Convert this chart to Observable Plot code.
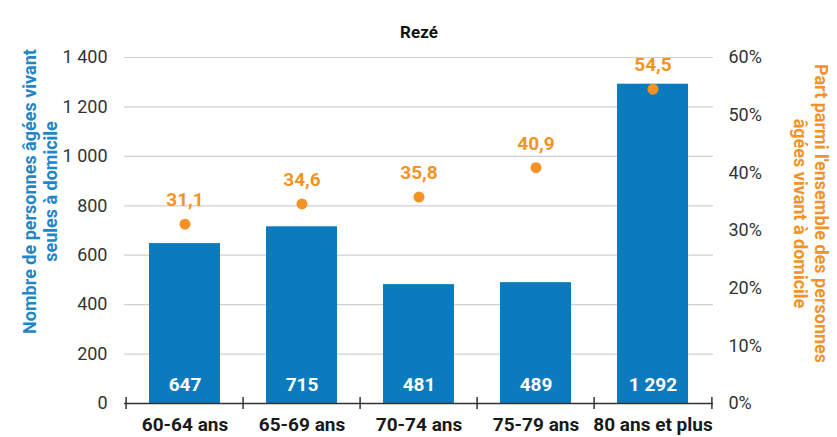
<!DOCTYPE html>
<html>
<head>
<meta charset="utf-8">
<script src="https://cdn.jsdelivr.net/npm/d3@7"></script>
<script src="https://cdn.jsdelivr.net/npm/@observablehq/plot@0.6"></script>
<style>
  html, body { margin: 0; padding: 0; background: #fff; }
  #chart svg { display: block; }
</style>
</head>
<body>
<div id="chart"></div>
<script>
const categories = ["60-64 ans", "65-69 ans", "70-74 ans", "75-79 ans", "80 ans et plus"];
const counts = [647, 715, 481, 489, 1292];
const shares = [31.1, 34.6, 35.8, 40.9, 54.5];
const yTicks = [0, 200, 400, 600, 800, 1000, 1200, 1400];
const shareTicks = [0, 10, 20, 30, 40, 50, 60];
const shareMax = 60;
const countMax = 1400;
const title = "Rezé";
const leftTitle = "Nombre de personnes âgées vivant\nseules à domicile";
const rightTitle = "Part parmi l'ensemble des personnes\nâgées vivant à domicile";

const blue = "#0a7bbd";
const blueTitle = "#1f86c8";
const orange = "#f39325";

const data = categories.map((c, i) => ({cat: c, count: counts[i], share: shares[i]}));
const fr = d3.formatLocale({decimal: ",", thousands: "\u00a0", grouping: [3], currency: ["", " €"]});
const fmtInt = fr.format(",d");
const fmtDec = fr.format(".1f");
const toY = s => s / shareMax * countMax;

const W = 837, H = 437;
const mL = 124, mR = 124;
const step = (W - mL - mR) / categories.length;

const chart = Plot.plot({
  width: W,
  height: H,
  marginLeft: mL,
  marginRight: mR,
  marginTop: 57,
  marginBottom: 34,
  style: {fontFamily: "Roboto, 'Liberation Sans', sans-serif", background: "#fff"},
  x: {domain: categories, paddingInner: 0.39, paddingOuter: 0.195, label: null},
  y: {domain: [0, countMax], label: null},
  marks: [
    Plot.gridY(yTicks.filter(d => d > 0), {stroke: "#d0d0d0", strokeOpacity: 1, strokeWidth: 1.2}),
    Plot.barY(data, {x: "cat", y: "count", fill: blue}),
    Plot.ruleY([0], {stroke: "#333", strokeWidth: 1.5}),
    Plot.ruleX(categories, {x: d => d, y1: -24, y2: 24, dx: -step / 2, stroke: "#333", strokeWidth: 1.5}),
    Plot.ruleX(categories.slice(-1), {x: d => d, y1: -24, y2: 24, dx: step / 2, stroke: "#333", strokeWidth: 1.5}),
    Plot.axisY({ticks: yTicks, tickSize: 0, tickPadding: 17, tickFormat: d => fmtInt(d), fontSize: 18, color: "#333", label: null}),
    Plot.axisY({anchor: "right", ticks: shareTicks.map(toY), tickSize: 0, tickPadding: 15, tickFormat: d => Math.round(d / countMax * shareMax) + "%", fontSize: 18, color: "#333", label: null}),
    Plot.axisX({tickSize: 0, tickPadding: 14, fontSize: 19, fontWeight: "bold", color: "#1a1a1a", label: null}),
    Plot.text(data, {x: "cat", y: 0, text: d => fmtInt(d.count), dy: -19, fill: "#fff", fontSize: 19, fontWeight: "bold"}),
    Plot.dot(data, {x: "cat", y: d => toY(d.share), r: 5.5, fill: orange, stroke: null}),
    Plot.text(data, {x: "cat", y: d => toY(d.share), text: d => fmtDec(d.share), dy: -24, fill: orange, fontSize: 19, fontWeight: "bold"}),
    Plot.text([title], {frameAnchor: "top", dy: -32, fontSize: 17, fontWeight: "bold", fill: "#111"}),
    Plot.text([leftTitle], {frameAnchor: "left", textAnchor: "middle", lineAnchor: "middle", dx: -85, dy: -39, rotate: -90, fontSize: 18, fontWeight: "bold", fill: blueTitle, lineHeight: 1.2}),
    Plot.text([rightTitle], {frameAnchor: "right", textAnchor: "middle", lineAnchor: "middle", dx: 98, dy: -17, rotate: 90, fontSize: 18, fontWeight: "bold", fill: orange, lineHeight: 1.2})
  ]
});
document.getElementById("chart").appendChild(chart);
</script>
</body>
</html>
